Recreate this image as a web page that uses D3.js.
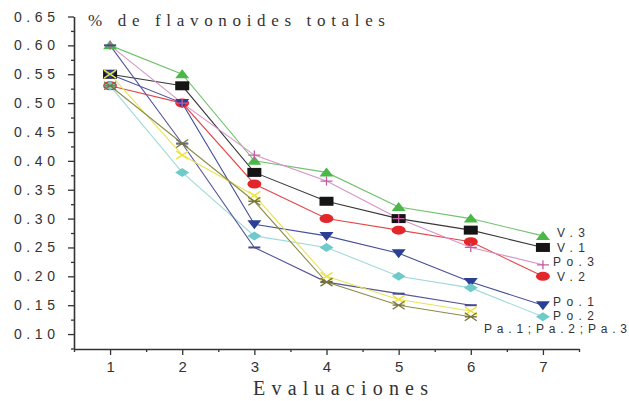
<!DOCTYPE html>
<html>
<head>
	<meta charset="utf-8">
	<script src="https://cdnjs.cloudflare.com/ajax/libs/d3/7.8.5/d3.min.js"></script>
	<style>
		body { margin: 0; background: #fff; }
		svg { display: block; }
		.tick-lbl { font-family: Arial, "Liberation Sans", sans-serif; fill: #333; }
		.serif { font-family: "Liberation Serif", "Times New Roman", serif; fill: #333; }
	</style>
</head>
<body>
	<svg width="629" height="401" id="chart"></svg>
	<script>
	//data
	const evaluations = [1, 2, 3, 4, 5, 6, 7];
	const v3  = [0.60, 0.55, 0.40, 0.38, 0.32, 0.30, 0.27];
	const v1  = [0.55, 0.53, 0.38, 0.33, 0.30, 0.28, 0.25];
	const v2  = [0.53, 0.50, 0.36, 0.30, 0.28, 0.26, 0.20];
	const po1 = [0.55, 0.50, 0.29, 0.27, 0.24, 0.19, 0.15];
	const po2 = [0.53, 0.38, 0.27, 0.25, 0.20, 0.18, 0.13];
	const po3 = [0.60, 0.50, 0.41, 0.365, 0.30, 0.25, 0.22];
	const pa1 = [0.60, 0.43, 0.25, 0.19, 0.17, 0.15];
	const pa2 = [0.55, 0.41, 0.34, 0.20, 0.16, 0.14];
	const pa3 = [0.53, 0.43, 0.33, 0.19, 0.15, 0.13];
	const yTicks = [0.10, 0.15, 0.20, 0.25, 0.30, 0.35, 0.40, 0.45, 0.50, 0.55, 0.60, 0.65];
	const endLabels = ["V.3", "V.1", "Po.3", "V.2", "Po.1", "Po.2", "Pa.1;Pa.2;Pa.3"];
	const endLabelAt = [0.275, 0.250, 0.2255, 0.199, 0.1555, 0.132, 0.1085];

	//series styles, drawn in this order
	const series = [
		{name: "V.2",  values: v2,  shape: "ellipse", color: "#e3262a", line: "#e44848"},
		{name: "V.1",  values: v1,  shape: "square",  color: "#151515", line: "#383838"},
		{name: "V.3",  values: v3,  shape: "up",      color: "#4bb748", line: "#70c26c"},
		{name: "Po.1", values: po1, shape: "down",    color: "#2b3f94", line: "#45509c"},
		{name: "Po.2", values: po2, shape: "diamond", color: "#6fcaca", line: "#9fdada"},
		{name: "Po.3", values: po3, shape: "plus",    color: "#c060a0", line: "#d892c6"},
		{name: "Pa.1", values: pa1, shape: "dash",    color: "#4a4a8c", line: "#55559a"},
		{name: "Pa.2", values: pa2, shape: "x",       color: "#efe43e", line: "#ebe25a"},
		{name: "Pa.3", values: pa3, shape: "star",    color: "#76763a", line: "#8c8c4c"}
	];

	var svg = d3.select("svg");

	//define scales
	let x = d3.scaleLinear().domain([0.5, 7.5]).range([74, 579]),
		y = d3.scaleLinear().domain([0.075, 0.65]).range([348.5, 16.5]);

	//y axis: major + minor ticks
	let yMinor = d3.range(0.075, 0.651, 0.05);
	svg.append("g")
		.attr("transform", "translate(74,0)")
		.call(d3.axisLeft(y).tickValues(yMinor).tickSize(3).tickFormat(""))
		.call(g => g.select(".domain").remove())
		.selectAll("line").attr("stroke", "#333").attr("stroke-width", 1.3);
	let gy = svg.append("g")
		.attr("transform", "translate(74,0)")
		.call(d3.axisLeft(y).tickValues(yTicks).tickSize(6).tickSizeOuter(0).tickFormat(""));
	gy.selectAll("line").attr("stroke", "#333").attr("stroke-width", 1.3);
	gy.select(".domain").attr("stroke", "#333").attr("stroke-width", 1.6);

	//y tick labels, spread out like the original
	svg.append("g").selectAll("text")
		.data(yTicks)
		.join("text")
		.attr("class", "tick-lbl")
		.attr("x", 55)
		.attr("y", d => y(d) + 5)
		.attr("text-anchor", "end")
		.attr("textLength", 41)
		.attr("lengthAdjust", "spacing")
		.style("font-size", "14px")
		.text(d3.format(".2f"));

	//x axis
	svg.append("g")
		.attr("transform", "translate(0,349)")
		.call(d3.axisBottom(x).tickValues(d3.range(0.5, 7.6, 1)).tickSize(3).tickFormat(""))
		.call(g => g.select(".domain").remove())
		.selectAll("line").attr("stroke", "#333").attr("stroke-width", 1.3);
	let gx = svg.append("g")
		.attr("transform", "translate(0,349)")
		.call(d3.axisBottom(x).tickValues(evaluations).tickSize(6).tickSizeOuter(0).tickFormat(d3.format("d")));
	gx.selectAll("line").attr("stroke", "#333").attr("stroke-width", 1.3);
	gx.select(".domain").attr("stroke", "#333").attr("stroke-width", 1.6);
	gx.selectAll("text")
		.attr("class", "tick-lbl")
		.attr("y", 12)
		.attr("dy", "0.71em")
		.attr("fill", "#333")
		.style("font-size", "15px");

	//lines
	let line = d3.line()
		.x((d, i) => x(evaluations[i]))
		.y(d => y(d));

	svg.append("g").selectAll("path")
		.data(series)
		.join("path")
		.attr("fill", "none")
		.attr("stroke", d => d.line)
		.attr("stroke-width", 1.1)
		.attr("d", d => line(d.values));

	//marker shapes (wide, like the stretched original)
	const shapes = {
		up: "M0,-5L7,4L-7,4Z",
		down: "M-7,-4L7,-4L0,5Z",
		square: "M-7,-4.5H7V4.5H-7Z",
		diamond: "M0,-4.5L7,0L0,4.5L-7,0Z",
		plus: "M-6,0H6M0,-4.5V4.5",
		x: "M-6,-4L6,4M-6,4L6,-4",
		star: "M-6,-4L6,4M-6,4L6,-4M-6,0H6",
		dash: "M-6,0H6"
	};
	const stroked = {plus: 1.3, x: 1.5, star: 1.3, dash: 2};

	series.forEach(function(s) {
		let g = svg.append("g");
		let pts = g.selectAll(".pt")
			.data(s.values)
			.join("g")
			.attr("transform", (d, i) => "translate(" + x(evaluations[i]) + "," + y(d) + ")");
		if (s.shape === "ellipse") {
			pts.append("ellipse").attr("rx", 7).attr("ry", 4.5).attr("fill", s.color);
		} else if (stroked[s.shape]) {
			pts.append("path").attr("d", shapes[s.shape])
				.attr("fill", "none").attr("stroke", s.color).attr("stroke-width", stroked[s.shape]);
		} else {
			pts.append("path").attr("d", shapes[s.shape]).attr("fill", s.color);
		}
	});

	//end labels
	svg.append("g").selectAll("text")
		.data(endLabels)
		.join("text")
		.attr("class", "tick-lbl")
		.attr("x", (d, i) => i === 6 ? 484 : (d.length > 3 ? 553 : 557))
		.attr("y", (d, i) => y(endLabelAt[i]) + 4.3)
		.attr("textLength", (d, i) => i === 6 ? 143 : (d.length > 3 ? 41 : 28))
		.attr("lengthAdjust", "spacing")
		.style("font-size", "12px")
		.text(d => d);

	//title
	svg.append("text")
		.attr("class", "serif")
		.attr("x", 88)
		.attr("y", 26)
		.attr("textLength", 297)
		.attr("lengthAdjust", "spacing")
		.style("font-size", "17px")
		.text("% de flavonoides totales");

	//x axis title
	svg.append("text")
		.attr("class", "serif")
		.attr("x", 253)
		.attr("y", 395)
		.attr("textLength", 175)
		.attr("lengthAdjust", "spacing")
		.style("font-size", "20px")
		.text("Evaluaciones");
	</script>
</body>
</html>
